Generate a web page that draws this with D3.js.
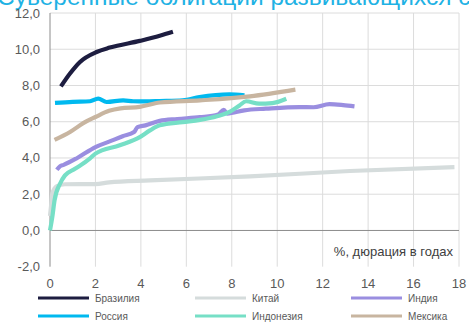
<!DOCTYPE html>
<html>
<head>
<meta charset="utf-8">
<script src="https://cdn.jsdelivr.net/npm/d3@7"></script>
<style>
  html, body { margin: 0; padding: 0; background: #fff; }
  svg { display: block; font-family: "Liberation Sans", Arial, sans-serif; }
</style>
</head>
<body>
<svg id="chart" width="469" height="325"></svg>
<script>
// Yield curves: duration (years) vs. yield (%)
const seriesNames = ["Бразилия", "Китай", "Индия", "Россия", "Индонезия", "Мексика"];
const seriesColors = ["#1d1d40", "#d5dcdc", "#9a8ee0", "#00b9ef", "#76dfc6", "#c8b5a0"];

const brazilX = [0.48, 0.88, 1.32, 2.05, 2.63, 3.95, 4.83, 5.41];
const brazilY = [7.95, 8.66, 9.3, 9.85, 10.09, 10.46, 10.74, 10.96];

const chinaX = [0, 0.05, 0.1, 0.3, 0.66, 2.0, 2.6, 4.4, 8.8, 13.2, 17.8];
const chinaY = [0.8, 1.4, 2.04, 2.45, 2.55, 2.56, 2.65, 2.76, 2.98, 3.28, 3.5];

const indiaX = [0.3, 0.45, 0.6, 1.2, 2.0, 2.6, 3.2, 3.7, 3.85, 4.2, 4.83, 5.6, 6.6, 7.4, 7.65, 7.8, 8.55, 9.5, 10.97, 11.6, 12.3, 12.9, 13.4];
const indiaY = [3.35, 3.55, 3.62, 4.0, 4.6, 4.9, 5.2, 5.43, 5.7, 5.8, 6.05, 6.15, 6.25, 6.4, 6.65, 6.45, 6.63, 6.72, 6.81, 6.8, 6.97, 6.92, 6.85];

const russiaX = [0.22, 1.0, 1.76, 2.12, 2.49, 3.22, 3.66, 4.2, 4.83, 5.84, 6.58, 7.9, 8.56];
const russiaY = [7.04, 7.1, 7.13, 7.28, 7.09, 7.18, 7.13, 7.12, 7.14, 7.18, 7.36, 7.51, 7.46];

const indonesiaX = [0, 0.1, 0.2, 0.44, 0.66, 1.1, 1.75, 2.0, 3.07, 3.95, 4.4, 4.83, 5.84, 6.6, 7.35, 7.9, 8.34, 8.63, 9.2, 9.78, 10.4];
const indonesiaY = [0, 0.73, 1.66, 2.58, 3.04, 3.4, 3.96, 4.24, 4.7, 5.15, 5.52, 5.8, 5.98, 6.1, 6.3, 6.54, 6.9, 7.13, 7.0, 7.03, 7.27];

const mexicoX = [0.2, 0.9, 1.5, 2.0, 2.6, 3.1, 3.95, 4.83, 6.6, 8.8, 10.8];
const mexicoY = [5.0, 5.45, 5.95, 6.26, 6.6, 6.74, 6.82, 7.06, 7.18, 7.4, 7.77];

const xTicks = [0, 2, 4, 6, 8, 10, 12, 14, 16, 18];
const yTicks = [-2, 0, 2, 4, 6, 8, 10, 12];

const titleText = "Суверенные облигации развивающихся стран";
const axisNote = "%, дюрация в годах";

const seriesData = [
  [brazilX, brazilY], [chinaX, chinaY], [indiaX, indiaY],
  [russiaX, russiaY], [indonesiaX, indonesiaY], [mexicoX, mexicoY]
].map(([xs, ys], i) => ({
  name: seriesNames[i],
  color: seriesColors[i],
  points: xs.map((x, j) => ({ x, y: ys[j] }))
}));

const svg = d3.select("#chart");
const plotLeft = 50, plotRight = 459, plotTop = 13, plotBottom = 266.7;

const x = d3.scaleLinear().domain([0, 18]).range([plotLeft, plotRight]);
const y = d3.scaleLinear().domain([-2, 12]).range([plotBottom, plotTop]);

// title, running past the top edge of the canvas
svg.append("text")
  .attr("x", -3).attr("y", 5)
  .attr("fill", "#1fb2e4")
  .attr("font-size", 24.5)
  .text(titleText);

// grid
const grid = svg.append("g");
grid.selectAll("line.v").data(xTicks.filter(d => d > 0)).join("line")
  .attr("x1", d => x(d)).attr("x2", d => x(d))
  .attr("y1", plotTop).attr("y2", plotBottom)
  .attr("stroke", "#dcdcdc").attr("stroke-width", 1);
grid.selectAll("line.h").data(yTicks.filter(d => d !== 0 && d !== -2)).join("line")
  .attr("x1", plotLeft).attr("x2", plotRight)
  .attr("y1", d => y(d)).attr("y2", d => y(d))
  .attr("stroke", "#dcdcdc").attr("stroke-width", 1);

// zero line and left axis line
svg.append("line")
  .attr("x1", plotLeft).attr("x2", plotRight)
  .attr("y1", y(0)).attr("y2", y(0))
  .attr("stroke", "#8c8c8c").attr("stroke-width", 1);
svg.append("line")
  .attr("x1", plotLeft).attr("x2", plotLeft)
  .attr("y1", plotTop).attr("y2", plotBottom)
  .attr("stroke", "#8c8c8c").attr("stroke-width", 1);

// tick labels
const fmt = d => d3.format(".1f")(d).replace(".", ",").replace("−", "-");
svg.append("g").selectAll("text").data(yTicks).join("text")
  .attr("x", 40).attr("y", d => y(d) + 4.5)
  .attr("text-anchor", "end")
  .attr("font-size", 13).attr("fill", "#595959")
  .text(fmt);
svg.append("g").selectAll("text").data(xTicks).join("text")
  .attr("x", d => x(d)).attr("y", 288)
  .attr("text-anchor", "middle")
  .attr("font-size", 13).attr("fill", "#595959")
  .text(d => d);

svg.append("text")
  .attr("x", 453).attr("y", 256)
  .attr("text-anchor", "end")
  .attr("font-size", 13).attr("fill", "#404040")
  .text(axisNote);

// series lines
const line = d3.line().x(d => x(d.x)).y(d => y(d.y)).curve(d3.curveMonotoneX);
const drawOrder = [1, 2, 4, 3, 5, 0];
svg.append("g").selectAll("path").data(drawOrder.map(i => seriesData[i])).join("path")
  .attr("d", d => line(d.points))
  .attr("fill", "none")
  .attr("stroke", d => d.color)
  .attr("stroke-width", 4.2)
  .attr("stroke-linejoin", "round");

// legend: two rows of three
const legendCols = [38, 195, 351];
const legendRows = [298, 316];
const legend = svg.append("g").selectAll("g").data(seriesData).join("g")
  .attr("transform", (d, i) => `translate(${legendCols[i % 3]},${legendRows[Math.floor(i / 3)]})`);
legend.append("line")
  .attr("x1", 0).attr("x2", 51).attr("y1", 0).attr("y2", 0)
  .attr("stroke", d => d.color).attr("stroke-width", 3);
legend.append("text")
  .attr("x", 57).attr("y", 3.5)
  .attr("font-size", 10).attr("fill", "#595959")
  .text(d => d.name);
</script>
</body>
</html>
